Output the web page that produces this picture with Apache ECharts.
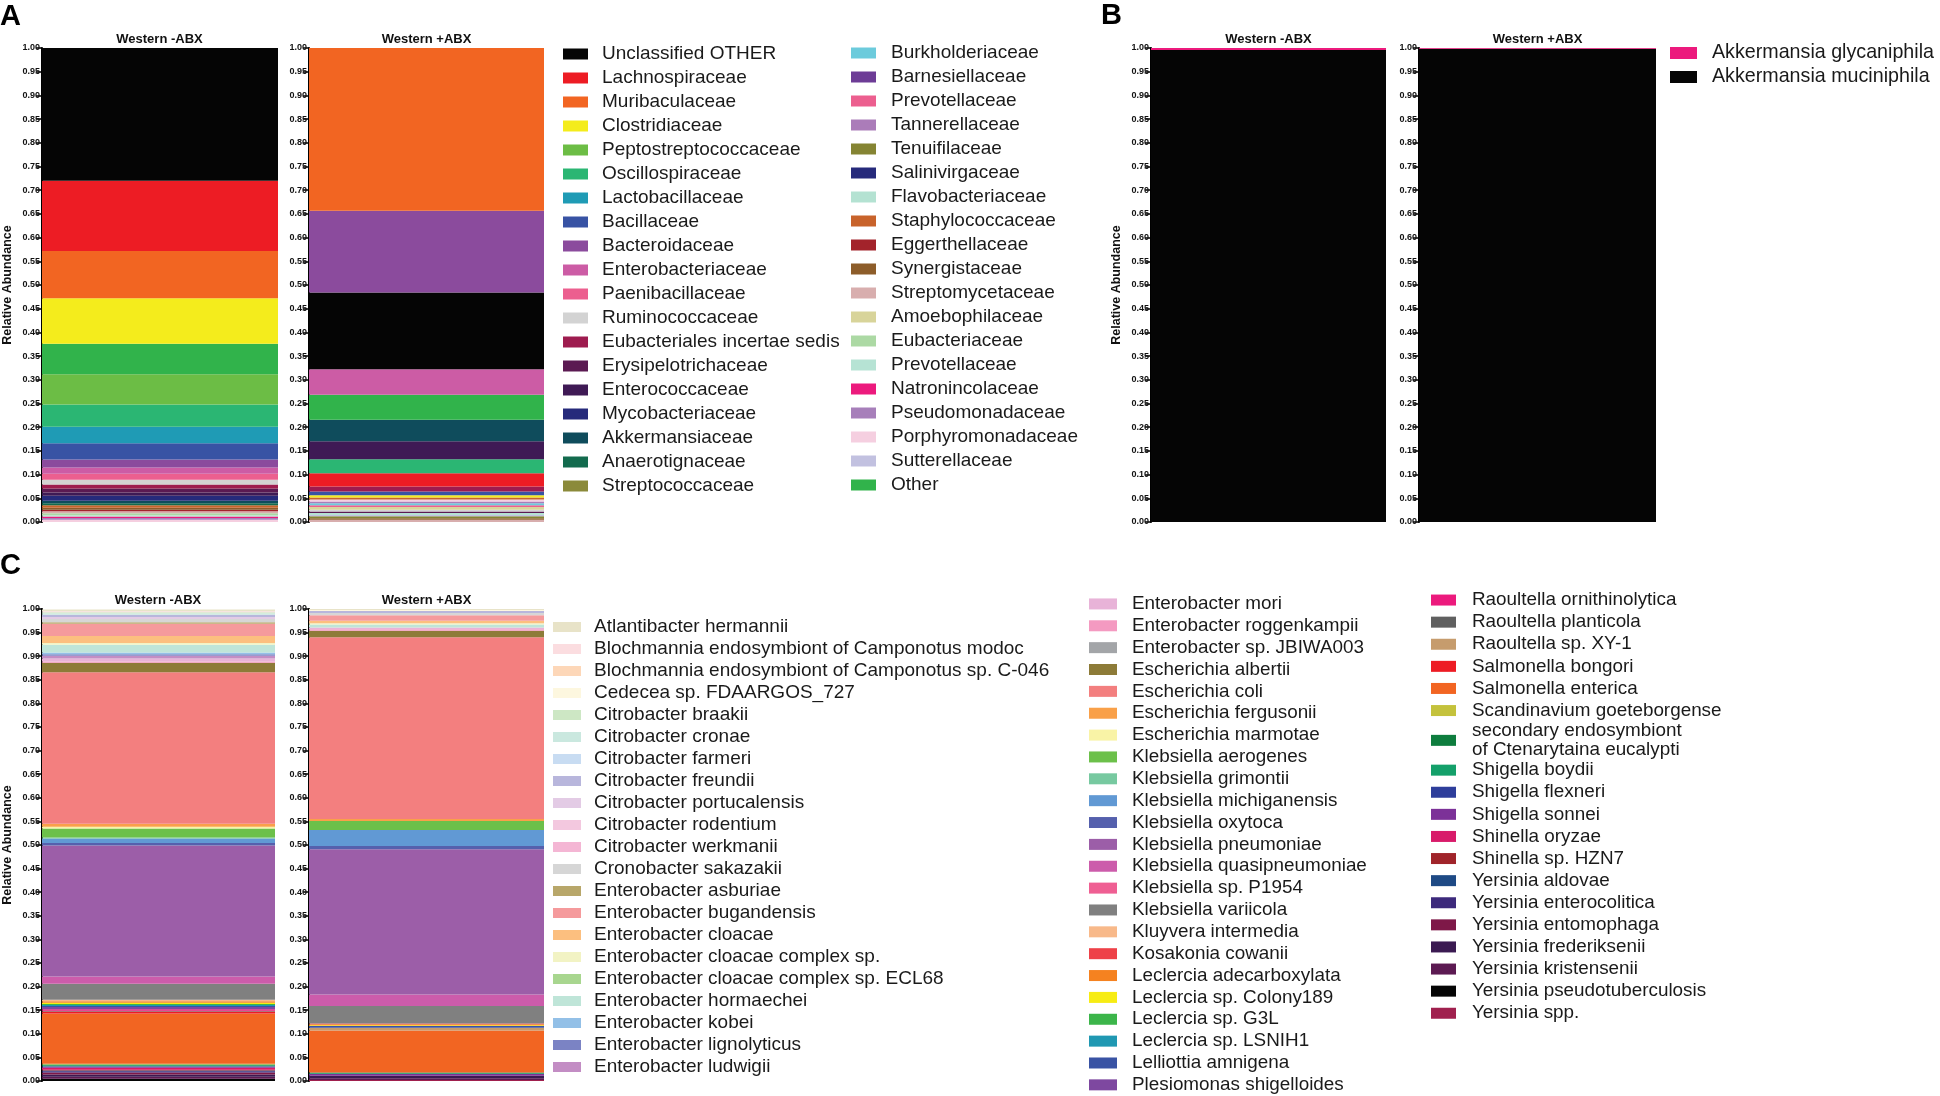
<!DOCTYPE html>
<html>
<head>
<meta charset="utf-8">
<script src="https://cdn.jsdelivr.net/npm/echarts@6/dist/echarts.min.js"></script>
<style>
  html, body { margin: 0; padding: 0; background: #fff; }
  #chart { width: 1940px; height: 1096px; }
</style>
</head>
<body>
<div id="chart"></div>
<script>
// ---- data ----
var groups = ['Western -ABX', 'Western +ABX'];
var yLabel = 'Relative Abundance';

// panel A: families (legend columns)
var famLegend1 = ['Unclassified OTHER', 'Lachnospiraceae', 'Muribaculaceae', 'Clostridiaceae', 'Peptostreptococcaceae',
  'Oscillospiraceae', 'Lactobacillaceae', 'Bacillaceae', 'Bacteroidaceae', 'Enterobacteriaceae', 'Paenibacillaceae',
  'Ruminococcaceae', 'Eubacteriales incertae sedis', 'Erysipelotrichaceae', 'Enterococcaceae', 'Mycobacteriaceae',
  'Akkermansiaceae', 'Anaerotignaceae', 'Streptococcaceae'];
var famLegend2 = ['Burkholderiaceae', 'Barnesiellaceae', 'Prevotellaceae', 'Tannerellaceae', 'Tenuifilaceae',
  'Salinivirgaceae', 'Flavobacteriaceae', 'Staphylococcaceae', 'Eggerthellaceae', 'Synergistaceae', 'Streptomycetaceae',
  'Amoebophilaceae', 'Eubacteriaceae', 'Prevotellaceae ', 'Natronincolaceae', 'Pseudomonadaceae', 'Porphyromonadaceae',
  'Sutterellaceae', 'Other'];

// stacks are listed top to bottom
var famMinusNames = ['Unclassified OTHER', 'Lachnospiraceae', 'Muribaculaceae', 'Clostridiaceae', 'Other',
  'Peptostreptococcaceae', 'Oscillospiraceae', 'Lactobacillaceae', 'Bacillaceae', 'Bacteroidaceae', 'Enterobacteriaceae',
  'Paenibacillaceae', 'Ruminococcaceae', 'Eubacteriales incertae sedis', 'Erysipelotrichaceae', 'Enterococcaceae',
  'Mycobacteriaceae', 'Akkermansiaceae', 'Anaerotignaceae', 'Staphylococcaceae', 'Synergistaceae', 'Eggerthellaceae',
  'Streptomycetaceae', 'Eubacteriaceae', 'Prevotellaceae ', 'Natronincolaceae', 'Pseudomonadaceae', 'Porphyromonadaceae'];
var famMinusVals = [0.280, 0.148, 0.100, 0.096, 0.064,
  0.064, 0.047, 0.035, 0.034, 0.017, 0.013,
  0.013, 0.0098, 0.0085, 0.0084, 0.007,
  0.0106, 0.005, 0.004, 0.0056, 0.0042, 0.003,
  0.0042, 0.0042, 0.003, 0.003, 0.0035, 0.0049];

var famPlusNames = ['Muribaculaceae', 'Bacteroidaceae', 'Unclassified OTHER', 'Enterobacteriaceae', 'Other',
  'Akkermansiaceae', 'Enterococcaceae', 'Oscillospiraceae', 'Lachnospiraceae', 'Eubacteriales incertae sedis',
  'Bacillaceae', 'Clostridiaceae', 'Staphylococcaceae', 'Porphyromonadaceae', 'Tannerellaceae', 'Burkholderiaceae',
  'Paenibacillaceae', 'Amoebophilaceae', 'Ruminococcaceae', 'Erysipelotrichaceae', 'Flavobacteriaceae',
  'Sutterellaceae', 'Tenuifilaceae', 'Synergistaceae', 'Streptomycetaceae'];
var famPlusVals = [0.3436, 0.172, 0.162, 0.054, 0.0525,
  0.0455, 0.038, 0.0296, 0.028, 0.0103,
  0.008, 0.005, 0.004, 0.004, 0.004, 0.004,
  0.004, 0.0055, 0.004, 0.003, 0.004,
  0.003, 0.004, 0.003, 0.005];

// panel B: Akkermansia species
var akkLegend = ['Akkermansia glycaniphila', 'Akkermansia muciniphila'];
var akkMinusVals = [0.004, 0.996];
var akkPlusVals = [0.0015, 0.9985];

// panel C: species (legend columns)
var spLegend1 = ['Atlantibacter hermannii', 'Blochmannia endosymbiont of Camponotus modoc',
  'Blochmannia endosymbiont of Camponotus sp. C-046', 'Cedecea sp. FDAARGOS_727', 'Citrobacter braakii',
  'Citrobacter cronae', 'Citrobacter farmeri', 'Citrobacter freundii', 'Citrobacter portucalensis',
  'Citrobacter rodentium', 'Citrobacter werkmanii', 'Cronobacter sakazakii', 'Enterobacter asburiae',
  'Enterobacter bugandensis', 'Enterobacter cloacae', 'Enterobacter cloacae complex sp.',
  'Enterobacter cloacae complex sp. ECL68', 'Enterobacter hormaechei', 'Enterobacter kobei',
  'Enterobacter lignolyticus', 'Enterobacter ludwigii'];
var spLegend2 = ['Enterobacter mori', 'Enterobacter roggenkampii', 'Enterobacter sp. JBIWA003', 'Escherichia albertii',
  'Escherichia coli', 'Escherichia fergusonii', 'Escherichia marmotae', 'Klebsiella aerogenes', 'Klebsiella grimontii',
  'Klebsiella michiganensis', 'Klebsiella oxytoca', 'Klebsiella pneumoniae', 'Klebsiella quasipneumoniae',
  'Klebsiella sp. P1954', 'Klebsiella variicola', 'Kluyvera intermedia', 'Kosakonia cowanii',
  'Leclercia adecarboxylata', 'Leclercia sp. Colony189', 'Leclercia sp. G3L', 'Leclercia sp. LSNIH1',
  'Lelliottia amnigena', 'Plesiomonas shigelloides'];
var spLegend3 = ['Raoultella ornithinolytica', 'Raoultella planticola', 'Raoultella sp. XY-1', 'Salmonella bongori',
  'Salmonella enterica', 'Scandinavium goeteborgense', 'secondary endosymbiont of Ctenarytaina eucalypti',
  'Shigella boydii', 'Shigella flexneri', 'Shigella sonnei', 'Shinella oryzae', 'Shinella sp. HZN7',
  'Yersinia aldovae', 'Yersinia enterocolitica', 'Yersinia entomophaga', 'Yersinia frederiksenii',
  'Yersinia kristensenii', 'Yersinia pseudotuberculosis', 'Yersinia spp.'];

var spMinusNames = ['Atlantibacter hermannii', 'Blochmannia endosymbiont of Camponotus modoc', 'Citrobacter braakii',
  'Citrobacter cronae', 'Citrobacter freundii', 'Citrobacter portucalensis', 'Cronobacter sakazakii',
  'Enterobacter asburiae', 'Enterobacter bugandensis', 'Enterobacter cloacae', 'Enterobacter cloacae complex sp.',
  'Enterobacter hormaechei', 'Enterobacter kobei', 'Enterobacter lignolyticus', 'Enterobacter ludwigii',
  'Enterobacter mori', 'Enterobacter roggenkampii', 'Escherichia albertii', 'Escherichia coli',
  'Escherichia fergusonii', 'Escherichia marmotae', 'Klebsiella aerogenes', 'Klebsiella grimontii',
  'Klebsiella michiganensis', 'Klebsiella oxytoca', 'Klebsiella pneumoniae', 'Klebsiella quasipneumoniae',
  'Klebsiella variicola', 'Kluyvera intermedia', 'Leclercia adecarboxylata', 'Leclercia sp. Colony189',
  'Leclercia sp. G3L', 'Leclercia sp. LSNIH1', 'Lelliottia amnigena', 'Plesiomonas shigelloides',
  'Raoultella ornithinolytica', 'Raoultella planticola', 'Salmonella bongori', 'Salmonella enterica',
  'Scandinavium goeteborgense', 'secondary endosymbiont of Ctenarytaina eucalypti', 'Shigella boydii',
  'Shigella flexneri', 'Shigella sonnei', 'Shinella oryzae', 'Shinella sp. HZN7', 'Yersinia aldovae',
  'Yersinia enterocolitica', 'Yersinia entomophaga', 'Yersinia frederiksenii', 'Yersinia kristensenii',
  'Yersinia pseudotuberculosis'];
var spMinusVals = [0.004, 0.002, 0.002,
  0.003, 0.005, 0.004, 0.007,
  0.003, 0.026, 0.015, 0.004,
  0.016, 0.004, 0.003, 0.006,
  0.006, 0.003, 0.020, 0.321,
  0.0065, 0.0035, 0.019, 0.002,
  0.010, 0.005, 0.2775, 0.0155,
  0.034, 0.003, 0.003, 0.003,
  0.002, 0.002, 0.002, 0.005,
  0.003, 0.002, 0.004, 0.1065,
  0.0015, 0.0015, 0.002,
  0.0015, 0.002, 0.004, 0.002, 0.0015,
  0.0025, 0.004, 0.005, 0.004,
  0.005];

var spPlusNames = ['Atlantibacter hermannii', 'Cedecea sp. FDAARGOS_727', 'Citrobacter freundii',
  'Cronobacter sakazakii', 'Enterobacter bugandensis', 'Enterobacter cloacae', 'Enterobacter cloacae complex sp.',
  'Enterobacter hormaechei', 'Enterobacter mori', 'Enterobacter roggenkampii', 'Escherichia albertii',
  'Escherichia coli', 'Escherichia fergusonii', 'Klebsiella aerogenes', 'Klebsiella michiganensis',
  'Klebsiella oxytoca', 'Klebsiella pneumoniae', 'Klebsiella quasipneumoniae', 'Klebsiella variicola',
  'Kosakonia cowanii', 'Leclercia adecarboxylata', 'Leclercia sp. Colony189', 'Lelliottia amnigena',
  'Raoultella sp. XY-1', 'Salmonella enterica', 'secondary endosymbiont of Ctenarytaina eucalypti',
  'Shigella boydii', 'Shigella sonnei', 'Yersinia frederiksenii', 'Yersinia kristensenii', 'Yersinia spp.'];
var spPlusVals = [0.002, 0.0025, 0.004,
  0.005, 0.0115, 0.005, 0.003,
  0.006, 0.004, 0.003, 0.014,
  0.385, 0.004, 0.019, 0.034,
  0.007, 0.3075, 0.0245, 0.037,
  0.002, 0.002, 0.0015, 0.0035,
  0.006, 0.089, 0.0015,
  0.0015, 0.004, 0.005, 0.004, 0.002];

// ---- colours (same order as the legend lists) ----
var famColors1 = ['#050505', '#ed1c24', '#f26522', '#f4ec1c', '#6cbd45', '#2bb673', '#1f9bb5', '#3853a4', '#8b4b9d',
  '#cc5ca5', '#ec5f8f', '#d3d3d3', '#9e1c4f', '#5b1a52', '#3f1a55', '#262a7b', '#0f4c5c', '#136b4e', '#8b8a3a'];
var famColors2 = ['#6ccbdc', '#6d3c96', '#ec5f8f', '#ab7cb9', '#858433', '#262a7b', '#b4e2d2', '#c8632b', '#a3232b',
  '#8d5d2a', '#d8aeae', '#d8d49a', '#acd9a4', '#b6e3d4', '#ec1a7d', '#a77fba', '#f5cfe0', '#c2c1e0', '#31b34b'];
var akkColors = ['#ec1a7d', '#050505'];
var spColors1 = ['#e8e3c8', '#fbdde0', '#fdd7b8', '#fdf7df', '#cde7c4', '#cae8df', '#c8dcf2', '#b8b6dc', '#e3cbe5',
  '#f3c8df', '#f4b6d4', '#d6d6d6', '#b8a76a', '#f59a9c', '#fcbf7f', '#f2f3c4', '#a8d68f', '#bfe5d8', '#93c0e7',
  '#7b83c4', '#c38dc4'];
var spColors2 = ['#e8b3d8', '#f49ac1', '#a3a5a8', '#8d7b38', '#f37f7f', '#f9a049', '#f9f3a6', '#6cc04a', '#77c9a0',
  '#6199d4', '#5560ad', '#9c5ea8', '#cc5cab', '#ef5f93', '#808080', '#f8b98a', '#ee4148', '#f58220', '#f7ec13',
  '#3cb54a', '#2098b2', '#3953a4', '#7e48a0'];
var spColors3 = ['#ec1a7d', '#606060', '#c69c6d', '#ed1c24', '#f26522', '#c4c23c', '#0e7d3e', '#14a06a', '#2e3e9b',
  '#7c3198', '#d81b6a', '#a0242a', '#1e4a85', '#3d2a7c', '#7e1848', '#3b1a52', '#5c1a52', '#050505', '#a0204e'];

// ---- fonts ----
var SANS = '"Liberation Sans", Arial, sans-serif';
var hasNarrow = (function () {
  var c = document.createElement('canvas').getContext('2d');
  var s = 'Akkermansia muciniphila';
  c.font = '20px monospace';
  var w0 = c.measureText(s).width;
  c.font = '20px "Liberation Sans Narrow", monospace';
  return Math.abs(c.measureText(s).width - w0) > 1;
})();
var NARROW = hasNarrow ? '"Liberation Sans Narrow", sans-serif' : SANS;
var nScale = hasNarrow ? 1 : 0.82;

// ---- build ----
var colorOf = {};
function addColors(names, cols) {
  names.forEach(function (n, i) { colorOf[n] = cols[i]; });
}
addColors(famLegend1, famColors1); addColors(famLegend2, famColors2);
addColors(akkLegend, akkColors);
addColors(spLegend1, spColors1); addColors(spLegend2, spColors2); addColors(spLegend3, spColors3);

var grids = [], xAxes = [], yAxes = [], series = [], graphics = [];
var used = {};

function addBar(rect, title, names, vals, withName) {
  var gi = grids.length;
  grids.push({ left: rect[0], top: rect[1], width: rect[2], height: rect[3] });
  xAxes.push({ type: 'category', gridIndex: gi, data: [title], show: false });
  yAxes.push({
    type: 'value', gridIndex: gi, min: 0, max: 1, interval: 0.05,
    name: withName ? yLabel : '', nameLocation: 'middle', nameGap: 28,
    nameTextStyle: { fontSize: 12.5, fontWeight: 'bold', fontFamily: SANS, color: '#111' },
    axisLine: { show: true, lineStyle: { color: '#000', width: 2 } },
    axisTick: { show: true, length: 6, lineStyle: { color: '#000', width: 1.5 } },
    axisLabel: { fontSize: 9, fontWeight: 'bold', fontFamily: SANS, color: '#111', margin: 2,
      formatter: function (v) { return v.toFixed(2); } },
    splitLine: { show: false }
  });
  // first series sits at the bottom of the stack
  for (var i = names.length - 1; i >= 0; i--) {
    used[names[i]] = true;
    series.push({
      type: 'bar', name: names[i], xAxisIndex: gi, yAxisIndex: gi, stack: 's' + gi,
      barWidth: '100%', data: [vals[i]], itemStyle: { color: colorOf[names[i]] }
    });
  }
  graphics.push({
    type: 'text', x: rect[0] + rect[2] / 2, y: rect[1] - 9,
    style: { text: title, textAlign: 'center', textVerticalAlign: 'middle',
      font: 'bold 13px "Liberation Sans", Arial, sans-serif', fill: '#111' }
  });
  return gi;
}

var gA = addBar([41, 48, 237, 474], groups[0], famMinusNames, famMinusVals, true);
addBar([309, 48, 235, 474], groups[1], famPlusNames, famPlusVals, false);
var gB = addBar([1151, 48, 235, 474], groups[0], akkLegend, akkMinusVals, true);
addBar([1419, 48, 237, 474], groups[1], akkLegend, akkPlusVals, false);
var gC = addBar([41, 609, 234, 472], groups[0], spMinusNames, spMinusVals, true);
addBar([309, 609, 235, 472], groups[1], spPlusNames, spPlusVals, false);

// legend entries that have no segment in any bar
function addLegendOnly(names, gi) {
  names.forEach(function (n) {
    if (used[n]) return;
    used[n] = true;
    series.push({ type: 'bar', name: n, xAxisIndex: gi, yAxisIndex: gi, stack: 's' + gi,
      barWidth: '100%', data: [], itemStyle: { color: colorOf[n] } });
  });
}
addLegendOnly(famLegend1.concat(famLegend2), gA);
addLegendOnly(spLegend1.concat(spLegend2, spLegend3), gC);

function legendCol(names, left, top, pitch, size, family, iw, ih, pad) {
  return {
    orient: 'vertical', left: left, top: top, height: 620, padding: 0, itemGap: 0,
    itemWidth: iw, itemHeight: ih, icon: 'rect', selectedMode: false, data: names,
    formatter: function (n) {
      if (n.indexOf('secondary endosymbiont') === 0) {
        return '{t|secondary endosymbiont}\n{t|of Ctenarytaina eucalypti}';
      }
      return n.trim();
    },
    textStyle: {
      fontSize: size, fontFamily: family, color: '#1a1a1a', lineHeight: pitch, padding: [0, 0, 0, pad],
      rich: { t: { fontSize: size, fontFamily: family, color: '#1a1a1a', lineHeight: 18.5 } }
    }
  };
}

var legends = [
  legendCol(famLegend1, 563, 42, 24, 19, SANS, 25, 11, 9),
  legendCol(famLegend2, 851, 41, 24, 19, SANS, 25, 11, 10),
  legendCol(akkLegend, 1670, 41, 24, 24 * nScale, NARROW, 27, 12, 10),
  legendCol(spLegend1, 553, 616, 22, 19, SANS, 28, 10, 8),
  legendCol(spLegend2, 1089, 593, 21.86, 23 * nScale, NARROW, 28, 11, 10),
  legendCol(spLegend3, 1431, 589, 22.1, 23 * nScale, NARROW, 25, 11, 11)
];

var letters = [['A', 0, 2], ['B', 1101, 1], ['C', 0, 551]];
letters.forEach(function (l) {
  graphics.push({ type: 'text', x: l[1], y: l[2],
    style: { text: l[0], font: 'bold 29px "Liberation Sans", Arial, sans-serif', fill: '#000' } });
});

var chart = echarts.init(document.getElementById('chart'));
chart.setOption({
  animation: false,
  backgroundColor: '#fff',
  grid: grids,
  xAxis: xAxes,
  yAxis: yAxes,
  legend: legends,
  graphic: graphics,
  series: series
});
</script>
</body>
</html>
